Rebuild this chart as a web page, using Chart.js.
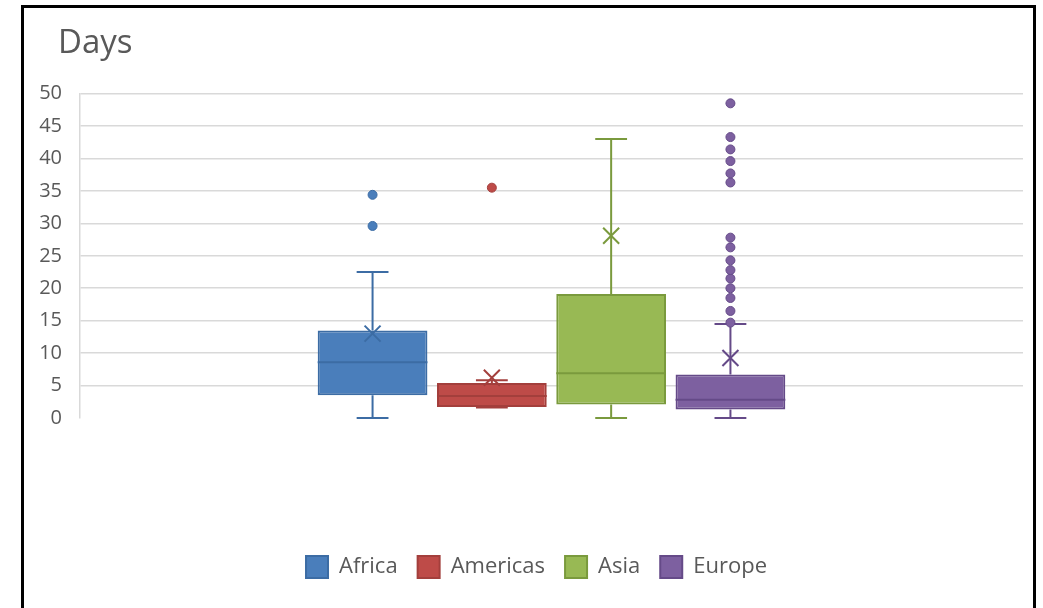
<!DOCTYPE html>
<html>
<head>
<meta charset="utf-8">
<script src="https://cdn.jsdelivr.net/npm/chart.js@4.4.1/dist/chart.umd.min.js"></script>
<style>
    body { margin: 0; background: #fff; }
    #frame {
        position: absolute;
        left: 21px;
        top: 5px;
        width: 1009px;
        height: 610px;
        border: 3px solid #000;
        border-bottom: none;
    }
    canvas { display: block; }
</style>
</head>
<body>
<div id="frame">
    <canvas id="boxChart" width="1009" height="600"></canvas>
</div>
<script>
// values (days)
const categories = ['Africa', 'Americas', 'Asia', 'Europe'];
const minValues = [0, 1.6, 0, 0];
const q1Values = [3.5, 1.7, 2.1, 1.3];
const medianValues = [8.6, 3.4, 6.9, 2.8];
const q3Values = [13.5, 5.4, 19.1, 6.7];
const maxValues = [22.5, 5.8, 43.0, 14.5];
const meanValues = [13.0, 6.2, 28.1, 9.25];
const outlierValues = [
    [29.6, 34.4],
    [35.5],
    [],
    [14.7, 16.5, 18.5, 20.0, 21.5, 22.8, 24.3, 26.3, 27.8, 36.3, 37.7, 39.6, 41.4, 43.3, 48.5]
];
const yTicks = [0, 5, 10, 15, 20, 25, 30, 35, 40, 45, 50];

const fillColors = ['#4a7ebb', '#be4b48', '#98b954', '#7d60a0'];
const lineColors = ['#3c6ca4', '#a33f3c', '#7a9a3d', '#654a88'];
const textColor = '#595959';
const fontFamily = "'Open Sans', 'Noto Sans', sans-serif";

// whiskers, medians, means and outliers on top of the floating bars
const boxExtras = {
    id: 'boxExtras',
    afterLayout: function(chart) {
        // title lines up with the tick labels, legend sits a bit right of centre
        chart.titleBlock.left += 26;
        chart.legend.left += 9;
        chart.legend.right += 9;
    },
    afterDatasetsDraw: function(chart) {
        var ctx = chart.ctx;
        var yScale = chart.scales.y;
        ctx.save();
        chart.data.datasets.forEach(function(ds, i) {
            var bar = chart.getDatasetMeta(i).data[0];
            var x = bar.x;
            var half = bar.width / 2;
            var cap = bar.width * 0.145;
            var yMin = yScale.getPixelForValue(minValues[i]);
            var yQ1 = yScale.getPixelForValue(q1Values[i]);
            var yQ3 = yScale.getPixelForValue(q3Values[i]);
            var yMax = yScale.getPixelForValue(maxValues[i]);
            var yMed = yScale.getPixelForValue(medianValues[i]);
            var yMean = yScale.getPixelForValue(meanValues[i]);

            ctx.strokeStyle = lineColors[i];
            ctx.lineWidth = 2;
            ctx.beginPath();
            ctx.moveTo(x, yQ3); ctx.lineTo(x, yMax);
            ctx.moveTo(x - cap, yMax); ctx.lineTo(x + cap, yMax);
            ctx.moveTo(x, yQ1); ctx.lineTo(x, yMin);
            ctx.moveTo(x - cap, yMin); ctx.lineTo(x + cap, yMin);
            ctx.moveTo(x - half, yMed); ctx.lineTo(x + half, yMed);
            ctx.stroke();

            var m = 8;
            ctx.beginPath();
            ctx.moveTo(x - m, yMean - m); ctx.lineTo(x + m, yMean + m);
            ctx.moveTo(x - m, yMean + m); ctx.lineTo(x + m, yMean - m);
            ctx.stroke();

            ctx.fillStyle = fillColors[i];
            ctx.lineWidth = 1;
            outlierValues[i].forEach(function(v) {
                ctx.beginPath();
                ctx.arc(x, yScale.getPixelForValue(v), 4.5, 0, Math.PI * 2);
                ctx.fill();
                ctx.stroke();
            });
        });
        ctx.restore();
    }
};

document.addEventListener('DOMContentLoaded', function() {
    var datasets = categories.map(function(name, i) {
        return {
            label: name,
            data: [[q1Values[i], q3Values[i]]],
            backgroundColor: fillColors[i],
            borderColor: lineColors[i],
            borderWidth: 2,
            borderSkipped: false,
            categoryPercentage: 0.506,
            barPercentage: 0.92
        };
    });

    var ctx = document.getElementById('boxChart').getContext('2d');
    var boxChart = new Chart(ctx, {
        type: 'bar',
        data: {
            labels: [''],
            datasets: datasets
        },
        plugins: [boxExtras],
        options: {
            responsive: false,
            animation: false,
            layout: {
                padding: { left: 8, right: 10, top: 0, bottom: 20 }
            },
            scales: {
                x: {
                    grid: { display: false },
                    border: { display: false },
                    ticks: { display: false },
                    afterFit: function(scale) { scale.height = 118; }
                },
                y: {
                    min: 0,
                    max: 50,
                    afterBuildTicks: function(scale) {
                        scale.ticks = yTicks.map(function(v) { return { value: v }; });
                    },
                    afterFit: function(scale) { scale.width = 48; },
                    grid: {
                        drawTicks: false,
                        lineWidth: 1.5,
                        color: function(c) {
                            return c.tick && c.tick.value === 0 ? 'rgba(0,0,0,0)' : '#d9d9d9';
                        }
                    },
                    border: { display: true, color: '#d9d9d9', width: 1.5 },
                    ticks: {
                        padding: 18,
                        color: textColor,
                        font: { family: fontFamily, size: 20 }
                    }
                }
            },
            plugins: {
                title: {
                    display: true,
                    text: 'Days',
                    align: 'start',
                    color: textColor,
                    font: { family: fontFamily, size: 33, weight: 'normal' },
                    padding: { top: 16, bottom: 30 }
                },
                legend: {
                    display: true,
                    position: 'bottom',
                    labels: {
                        boxWidth: 22,
                        boxHeight: 22,
                        padding: 20,
                        color: textColor,
                        font: { family: fontFamily, size: 22 }
                    }
                },
                tooltip: { enabled: false }
            }
        }
    });
});
</script>
</body>
</html>
